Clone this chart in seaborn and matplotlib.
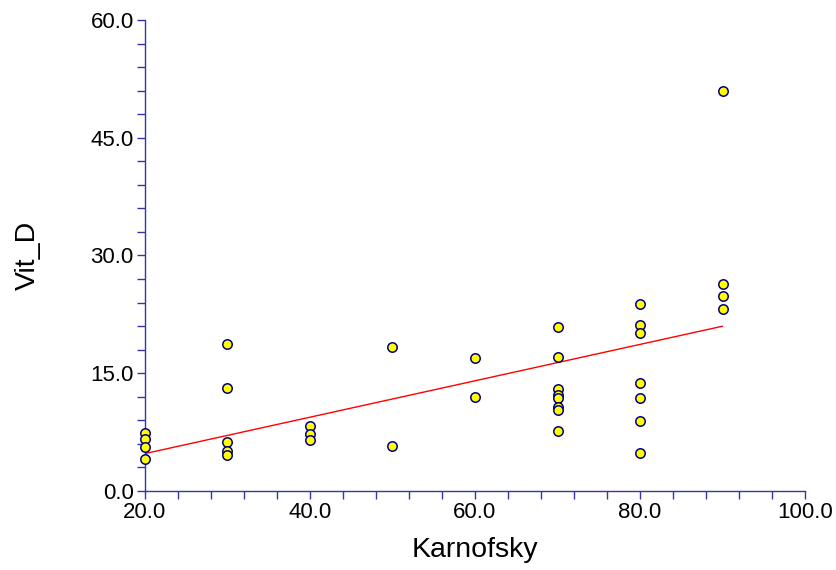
import numpy as np
import pandas as pd
import seaborn as sns
import matplotlib.pyplot as plt
from matplotlib.ticker import MultipleLocator, FormatStrFormatter

# values
karnofsky = [20, 20, 20, 20,
             30, 30, 30, 30, 30,
             40, 40, 40,
             50, 50,
             60, 60,
             70, 70, 70, 70, 70, 70, 70, 70,
             80, 80, 80, 80, 80, 80, 80,
             90, 90, 90, 90]
vit_d = [7.4, 6.6, 5.6, 4.1,
         18.7, 13.1, 6.3, 5.1, 4.6,
         8.3, 7.2, 6.5,
         18.3, 5.7,
         17.0, 12.0,
         20.9, 17.1, 13.0, 12.2, 11.9, 10.7, 10.3, 7.6,
         23.8, 21.1, 20.1, 13.7, 11.8, 8.9, 4.8,
         50.9, 26.4, 24.8, 23.2]

df = pd.DataFrame({"Karnofsky": karnofsky, "Vit_D": vit_d})

sns.set_style("ticks")
plt.rcParams['font.family'] = ['Liberation Sans', 'DejaVu Sans']
plt.rcParams['text.color'] = 'black'
plt.rcParams['axes.labelcolor'] = 'black'

axis_col = "#3535a5"

fig = plt.figure(figsize=(8.37, 5.70), dpi=100)
ax = fig.add_axes([0.1732, 0.1386, 0.7886, 0.8264])

## fitted line first so the dots sit on top of it
sns.regplot(data=df, x="Karnofsky", y="Vit_D", ax=ax, scatter=False, ci=None,
            truncate=True, line_kws={'color': '#ff0000', 'lw': 1.0, 'zorder': 2})
sns.scatterplot(data=df, x="Karnofsky", y="Vit_D", ax=ax, s=46, color='#ffff00',
                edgecolor='#000080', linewidth=1.1, zorder=3, clip_on=False)

ax.set_xlim(20, 100)
ax.set_ylim(0, 60)
ax.xaxis.set_major_locator(MultipleLocator(20))
ax.xaxis.set_minor_locator(MultipleLocator(4))
ax.yaxis.set_major_locator(MultipleLocator(15))
ax.yaxis.set_minor_locator(MultipleLocator(3))
ax.xaxis.set_major_formatter(FormatStrFormatter('%.1f'))
ax.yaxis.set_major_formatter(FormatStrFormatter('%.1f'))

for side in ['top', 'right']:
    ax.spines[side].set_visible(False)
for side in ['left', 'bottom']:
    ax.spines[side].set_color(axis_col)
    ax.spines[side].set_linewidth(1.0)

ax.tick_params(which='both', direction='out', length=6, width=1.0, color=axis_col,
               labelcolor='black', labelsize=16, pad=2)

ax.set_xlabel("Karnofsky", fontsize=20.5, labelpad=10, color='black')
ax.set_ylabel("Vit_D", fontsize=20.5, labelpad=36, color='black')

fig.savefig("out.png", dpi=100)
